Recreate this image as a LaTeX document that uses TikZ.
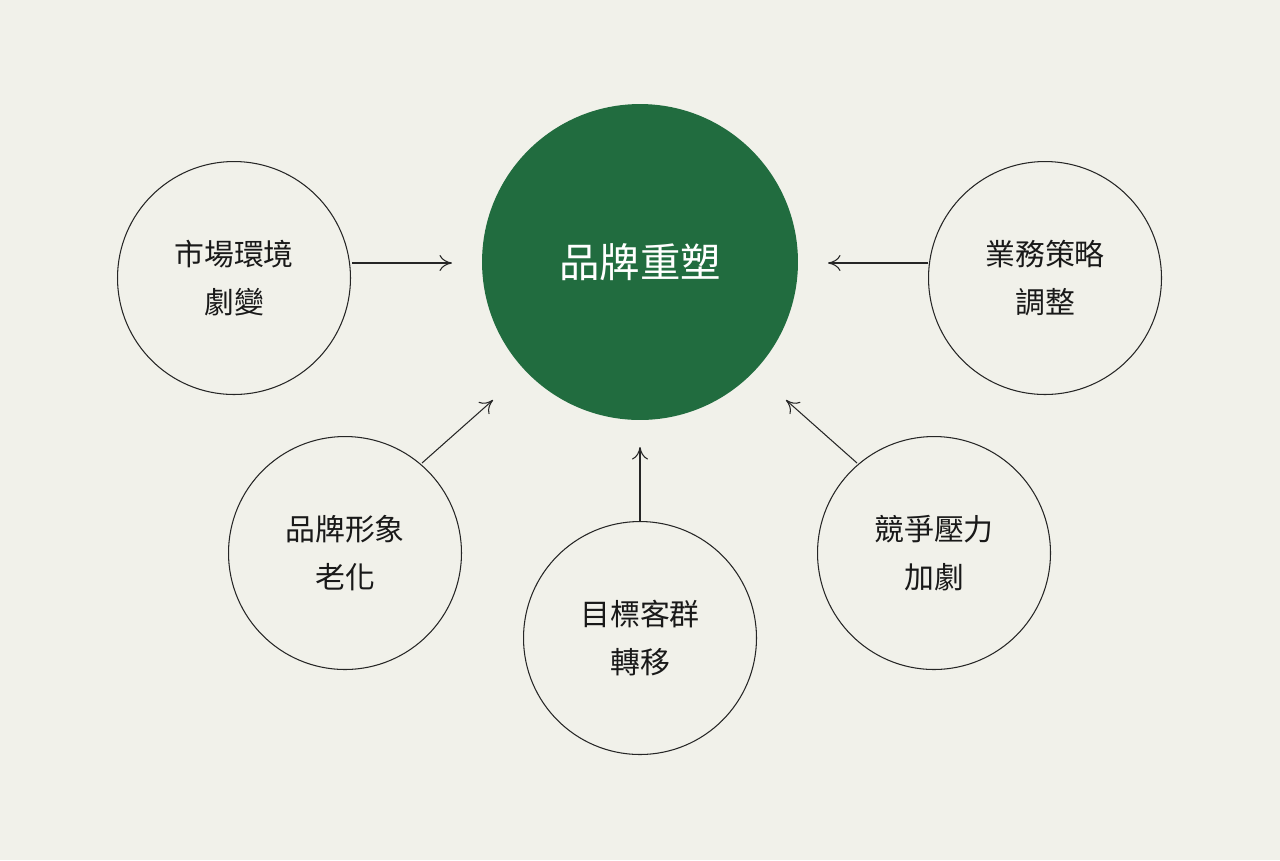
\documentclass[tikz,border=0pt]{standalone}
\usepackage{fontspec}
\usepackage{xcolor}
\usetikzlibrary{positioning,arrows.meta}
\newfontfamily\cjk{Noto Sans CJK TC}
\definecolor{bgpaper}{HTML}{F1F1EA}
\definecolor{brandgreen}{HTML}{216C3F}
\tikzset{corenode/.style={shape=circle, fill=brandgreen, text=white, minimum size=6.32cm, font=\cjk\fontsize{23}{30}\selectfont, align=center}}
\tikzset{causenode/.style={shape=circle, draw=black!85, line width=0.6pt, fill=none, minimum size=4.66cm, font=\cjk\fontsize{17}{27}\selectfont, align=center, text=black!90}}
\tikzset{pusharrow/.style={line width=0.6pt, draw=black!85, -{To[length=2.5mm,width=3.2mm]}}}
\begin{document}
\begin{tikzpicture}[x=0.02cm,y=-0.02cm]
\fill[bgpaper] (0,0) rectangle (1280,860);
\useasboundingbox (0,0) rectangle (1280,860);
%Nodes
\node[corenode]   (brand)   at (640,262) {品牌重塑};
\node[causenode]  (market)  at (234,278) {市場環境\\劇變};
\node[causenode]  (biz)     at (1045,278) {業務策略\\調整};
\node[causenode]  (image)   at (345,553) {品牌形象\\老化};
\node[causenode]  (target)  at (640,638) {目標客群\\轉移};
\node[causenode]  (rival)   at (934,553) {競爭壓力\\加劇};
%Arrow ends
\coordinate (marketout) at (352,263);
\coordinate (marketin)  at (452,263);
\coordinate (bizout)    at (928,263);
\coordinate (bizin)     at (828,263);
\coordinate (imageout)  at (422,463);
\coordinate (imagein)   at (493,400);
\coordinate (targetin)  at (640,447);
\coordinate (rivalout)  at (857,463);
\coordinate (rivalin)   at (786,400);
%Lines
\draw[pusharrow] (marketout) to (marketin);
\draw[pusharrow] (bizout) to (bizin);
\draw[pusharrow] (imageout) to (imagein);
\draw[pusharrow] (target.north) to (targetin);
\draw[pusharrow] (rivalout) to (rivalin);
\end{tikzpicture}
\end{document}
